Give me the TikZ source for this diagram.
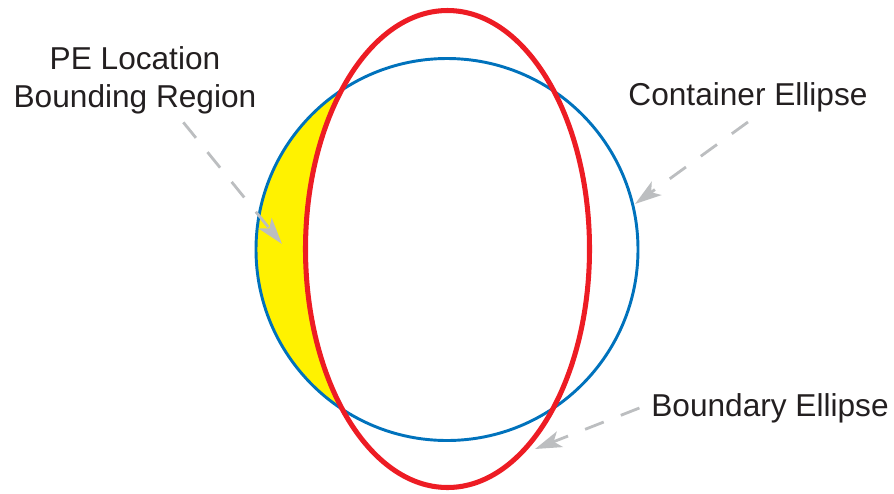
\documentclass[tikz,border=0pt]{standalone}
\usepackage{fontspec}
\setmainfont{Liberation Sans}
\usepackage{xcolor}
\usetikzlibrary{arrows.meta,positioning}
\definecolor{bluec}{HTML}{0072BC}
\definecolor{redc}{HTML}{ED1C24}
\definecolor{yelc}{HTML}{FFF200}
\definecolor{greyc}{HTML}{BCBEC0}
\definecolor{txtc}{HTML}{231F20}
\tikzset{
  ar/.style={-{Stealth[length=8mm,width=5mm,inset=2mm]},line width=2.4pt,greyc,dash pattern=on 0.6cm off 0.55cm},
  lbl/.style={font=\fontsize{27}{32.5}\selectfont,text=txtc,align=center,inner sep=0pt}
}
\begin{document}
\begin{tikzpicture}[x=0.03cm,y=-0.03cm]
\useasboundingbox (0,0) rectangle (894,493);
% crescent between container and boundary
\begin{scope}
\clip (0,0) rectangle (447,493);
\clip (447,249.5) circle [x radius=191,y radius=191];
\fill[yelc,even odd rule] (447,249.5) circle [x radius=191,y radius=191]
  (447.5,249) circle [x radius=142,y radius=238.5];
\end{scope}
\draw[bluec,line width=2.5pt] (447,249.5) circle [x radius=191,y radius=191];
\draw[redc,line width=4.3pt] (447.5,249) circle [x radius=142,y radius=238.5];
% labels
\node[lbl] (pe) at (135,80) {PE Location\\Bounding Region};
\node[lbl] (ce) at (748,97) {Container Ellipse};
\node[lbl] (be) at (770,408) {Boundary Ellipse};
\coordinate (petip) at (282,244);
\coordinate (cetip) at (635,204);
\coordinate (betip) at (535,449);
\draw[ar] ([xshift=1.45cm,yshift=-0.25cm]pe.south) -- (petip);
\draw[ar] ([yshift=-0.3cm]ce.south) -- (cetip);
\draw[ar] ([xshift=-0.35cm]be.west) -- (betip);
\end{tikzpicture}
\end{document}
